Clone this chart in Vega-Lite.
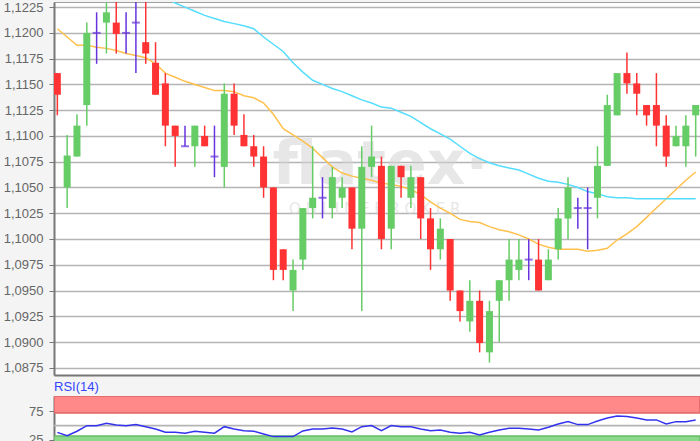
{
  "$schema": "https://vega.github.io/schema/vega-lite/v6.json",
  "padding": 0,
  "spacing": 4,
  "background": "#f4f4f4",
  "config": {
    "font": "Liberation Sans",
    "locale": {"number": {"decimal": ",", "thousands": ".", "grouping": [3], "currency": ["", " €"]}},
    "view": {"fill": "white", "stroke": "#a0a0a0", "strokeWidth": 1},
    "axis": {"labelFont": "Liberation Sans", "labelFontSize": 13, "labelColor": "#666666", "title": null, "labelOverlap": false}
  },
  "datasets": {
    "candles": [
      {"i":0,"o":1.1161,"h":1.1161,"l":1.1120,"c":1.1140,"ma20":1.1204,"ma50":1.1290,"rsi":38.1},
      {"i":1,"o":1.1050,"h":1.1101,"l":1.1030,"c":1.1081,"ma20":1.1196,"ma50":1.1285,"rsi":32.5},
      {"i":2,"o":1.1080,"h":1.1121,"l":1.1080,"c":1.1110,"ma20":1.1188,"ma50":1.1280,"rsi":40.2},
      {"i":3,"o":1.1130,"h":1.1210,"l":1.1110,"c":1.1200,"ma20":1.1188,"ma50":1.1275,"rsi":50.0},
      {"i":4,"o":1.1200,"h":1.1220,"l":1.1170,"c":1.1200,"ma20":1.1186,"ma50":1.1270,"rsi":50.0},
      {"i":5,"o":1.1210,"h":1.1240,"l":1.1180,"c":1.1220,"ma20":1.1185,"ma50":1.1265,"rsi":54.2},
      {"i":6,"o":1.1210,"h":1.1240,"l":1.1180,"c":1.1199,"ma20":1.1183,"ma50":1.1260,"rsi":51.2},
      {"i":7,"o":1.1200,"h":1.1220,"l":1.1180,"c":1.1200,"ma20":1.1180,"ma50":1.1255,"rsi":50.0},
      {"i":8,"o":1.1210,"h":1.1245,"l":1.1161,"c":1.1210,"ma20":1.1178,"ma50":1.1250,"rsi":51.8},
      {"i":9,"o":1.1191,"h":1.1235,"l":1.1170,"c":1.1180,"ma20":1.1176,"ma50":1.1244,"rsi":48.2},
      {"i":10,"o":1.1171,"h":1.1191,"l":1.1140,"c":1.1140,"ma20":1.1170,"ma50":1.1239,"rsi":44.2},
      {"i":11,"o":1.1151,"h":1.1161,"l":1.1090,"c":1.1110,"ma20":1.1161,"ma50":1.1234,"rsi":38.4},
      {"i":12,"o":1.1110,"h":1.1110,"l":1.1070,"c":1.1100,"ma20":1.1157,"ma50":1.1229,"rsi":38.4},
      {"i":13,"o":1.1090,"h":1.1110,"l":1.1090,"c":1.1090,"ma20":1.1153,"ma50":1.1225,"rsi":36.7},
      {"i":14,"o":1.1090,"h":1.1110,"l":1.1070,"c":1.1110,"ma20":1.1150,"ma50":1.1221,"rsi":40.2},
      {"i":15,"o":1.1100,"h":1.1110,"l":1.1090,"c":1.1090,"ma20":1.1147,"ma50":1.1217,"rsi":38.4},
      {"i":16,"o":1.1080,"h":1.1110,"l":1.1060,"c":1.1080,"ma20":1.1144,"ma50":1.1214,"rsi":36.7},
      {"i":17,"o":1.1070,"h":1.1151,"l":1.1050,"c":1.1141,"ma20":1.1144,"ma50":1.1211,"rsi":48.2},
      {"i":18,"o":1.1141,"h":1.1151,"l":1.1101,"c":1.1110,"ma20":1.1143,"ma50":1.1209,"rsi":44.2},
      {"i":19,"o":1.1101,"h":1.1121,"l":1.1090,"c":1.1090,"ma20":1.1139,"ma50":1.1207,"rsi":41.2},
      {"i":20,"o":1.1090,"h":1.1101,"l":1.1070,"c":1.1080,"ma20":1.1137,"ma50":1.1204,"rsi":40.2},
      {"i":21,"o":1.1080,"h":1.1090,"l":1.1040,"c":1.1050,"ma20":1.1132,"ma50":1.1196,"rsi":35.4},
      {"i":22,"o":1.1050,"h":1.1050,"l":1.0960,"c":1.0970,"ma20":1.1121,"ma50":1.1189,"rsi":30.7},
      {"i":23,"o":1.0990,"h":1.0990,"l":1.0960,"c":1.0970,"ma20":1.1107,"ma50":1.1182,"rsi":30.7},
      {"i":24,"o":1.0950,"h":1.0980,"l":1.0930,"c":1.0970,"ma20":1.1101,"ma50":1.1171,"rsi":30.7},
      {"i":25,"o":1.0980,"h":1.1030,"l":1.0970,"c":1.1030,"ma20":1.1095,"ma50":1.1162,"rsi":40.7},
      {"i":26,"o":1.1030,"h":1.1090,"l":1.1020,"c":1.1040,"ma20":1.1088,"ma50":1.1154,"rsi":44.2},
      {"i":27,"o":1.1040,"h":1.1060,"l":1.1020,"c":1.1040,"ma20":1.1079,"ma50":1.1150,"rsi":44.2},
      {"i":28,"o":1.1030,"h":1.1070,"l":1.1020,"c":1.1060,"ma20":1.1070,"ma50":1.1146,"rsi":46.0},
      {"i":29,"o":1.1040,"h":1.1060,"l":1.1030,"c":1.1050,"ma20":1.1064,"ma50":1.1143,"rsi":44.2},
      {"i":30,"o":1.1050,"h":1.1050,"l":1.0990,"c":1.1010,"ma20":1.1061,"ma50":1.1139,"rsi":38.9},
      {"i":31,"o":1.1010,"h":1.1090,"l":1.0930,"c":1.1070,"ma20":1.1059,"ma50":1.1135,"rsi":48.2},
      {"i":32,"o":1.1070,"h":1.1110,"l":1.1060,"c":1.1080,"ma20":1.1057,"ma50":1.1132,"rsi":50.0},
      {"i":33,"o":1.1071,"h":1.1080,"l":1.0990,"c":1.1000,"ma20":1.1054,"ma50":1.1128,"rsi":41.2},
      {"i":34,"o":1.1010,"h":1.1071,"l":1.0990,"c":1.1071,"ma20":1.1053,"ma50":1.1127,"rsi":50.0},
      {"i":35,"o":1.1071,"h":1.1071,"l":1.1040,"c":1.1060,"ma20":1.1051,"ma50":1.1123,"rsi":48.2},
      {"i":36,"o":1.1040,"h":1.1071,"l":1.1030,"c":1.1060,"ma20":1.1048,"ma50":1.1119,"rsi":48.2},
      {"i":37,"o":1.1060,"h":1.1060,"l":1.1000,"c":1.1020,"ma20":1.1043,"ma50":1.1113,"rsi":44.2},
      {"i":38,"o":1.1020,"h":1.1030,"l":1.0970,"c":1.0990,"ma20":1.1036,"ma50":1.1107,"rsi":41.2},
      {"i":39,"o":1.0990,"h":1.1020,"l":1.0980,"c":1.1010,"ma20":1.1030,"ma50":1.1102,"rsi":42.5},
      {"i":40,"o":1.1000,"h":1.1000,"l":1.0940,"c":1.0950,"ma20":1.1025,"ma50":1.1097,"rsi":38.4},
      {"i":41,"o":1.0950,"h":1.0950,"l":1.0920,"c":1.0930,"ma20":1.1019,"ma50":1.1090,"rsi":36.7},
      {"i":42,"o":1.0920,"h":1.0960,"l":1.0910,"c":1.0940,"ma20":1.1017,"ma50":1.1083,"rsi":38.4},
      {"i":43,"o":1.0940,"h":1.0950,"l":1.0890,"c":1.0899,"ma20":1.1016,"ma50":1.1078,"rsi":33.7},
      {"i":44,"o":1.0890,"h":1.0940,"l":1.0880,"c":1.0930,"ma20":1.1012,"ma50":1.1074,"rsi":38.4},
      {"i":45,"o":1.0940,"h":1.0960,"l":1.0900,"c":1.0960,"ma20":1.1009,"ma50":1.1071,"rsi":42.5},
      {"i":46,"o":1.0960,"h":1.1000,"l":1.0940,"c":1.0980,"ma20":1.1007,"ma50":1.1069,"rsi":45.4},
      {"i":47,"o":1.0970,"h":1.1000,"l":1.0960,"c":1.0980,"ma20":1.1004,"ma50":1.1067,"rsi":45.4},
      {"i":48,"o":1.0980,"h":1.1000,"l":1.0960,"c":1.0980,"ma20":1.1000,"ma50":1.1063,"rsi":44.2},
      {"i":49,"o":1.0980,"h":1.1000,"l":1.0950,"c":1.0950,"ma20":1.0995,"ma50":1.1059,"rsi":42.5},
      {"i":50,"o":1.0960,"h":1.0990,"l":1.0960,"c":1.0980,"ma20":1.0992,"ma50":1.1056,"rsi":47.2},
      {"i":51,"o":1.0990,"h":1.1030,"l":1.0980,"c":1.1020,"ma20":1.0990,"ma50":1.1055,"rsi":53.0},
      {"i":52,"o":1.1020,"h":1.1060,"l":1.1000,"c":1.1050,"ma20":1.0990,"ma50":1.1053,"rsi":57.0},
      {"i":53,"o":1.1030,"h":1.1040,"l":1.1010,"c":1.1030,"ma20":1.0990,"ma50":1.1050,"rsi":51.8},
      {"i":54,"o":1.1030,"h":1.1050,"l":1.0990,"c":1.1030,"ma20":1.0988,"ma50":1.1046,"rsi":51.8},
      {"i":55,"o":1.1040,"h":1.1090,"l":1.1020,"c":1.1071,"ma20":1.0989,"ma50":1.1044,"rsi":58.2},
      {"i":56,"o":1.1071,"h":1.1140,"l":1.1071,"c":1.1130,"ma20":1.0991,"ma50":1.1041,"rsi":63.5},
      {"i":57,"o":1.1120,"h":1.1161,"l":1.1120,"c":1.1161,"ma20":1.0999,"ma50":1.1040,"rsi":67.0},
      {"i":58,"o":1.1161,"h":1.1181,"l":1.1141,"c":1.1151,"ma20":1.1005,"ma50":1.1040,"rsi":66.1},
      {"i":59,"o":1.1151,"h":1.1161,"l":1.1120,"c":1.1141,"ma20":1.1012,"ma50":1.1039,"rsi":63.5},
      {"i":60,"o":1.1130,"h":1.1130,"l":1.1110,"c":1.1120,"ma20":1.1021,"ma50":1.1039,"rsi":60.0},
      {"i":61,"o":1.1130,"h":1.1161,"l":1.1090,"c":1.1110,"ma20":1.1030,"ma50":1.1039,"rsi":60.0},
      {"i":62,"o":1.1110,"h":1.1120,"l":1.1070,"c":1.1080,"ma20":1.1039,"ma50":1.1039,"rsi":53.0},
      {"i":63,"o":1.1090,"h":1.1110,"l":1.1090,"c":1.1100,"ma20":1.1048,"ma50":1.1039,"rsi":57.0},
      {"i":64,"o":1.1090,"h":1.1120,"l":1.1070,"c":1.1110,"ma20":1.1057,"ma50":1.1039,"rsi":57.0},
      {"i":65,"o":1.1120,"h":1.1130,"l":1.1080,"c":1.1130,"ma20":1.1065,"ma50":1.1039,"rsi":60.0}
    ],
    "bands": [
      {"zone": "overbought", "lo": 72, "hi": 102},
      {"zone": "oversold", "lo": 16, "hi": 32}
    ],
    "levels": [{"v": 50}]
  },
  "vconcat": [
    {
      "width": 646,
      "height": 373,
      "encoding": {
        "x": {"field": "i", "type": "quantitative", "scale": {"domain": [-0.34, 65.44], "nice": false, "zero": false, "padding": 0},
              "axis": {"labels": false, "ticks": false, "grid": false, "domain": true, "domainColor": "#777777", "domainWidth": 2, "minExtent": 0, "maxExtent": 0}}
      },
      "layer": [
        {
          "data": {"values": [{"label": "flatex·", "x": 21.9, "y": 1.1053}]},
          "mark": {"type": "text", "font": "DejaVu Sans", "fontWeight": "bold", "fontSize": 60, "align": "left", "baseline": "alphabetic", "color": "#d4d4d4", "opacity": 0.55},
          "encoding": {
            "x": {"field": "x", "type": "quantitative"},
            "y": {"field": "y", "type": "quantitative", "scale": {"domain": [1.0868, 1.1230], "nice": false, "zero": false, "padding": 0},
                  "axis": {"values": [1.0875, 1.09, 1.0925, 1.095, 1.0975, 1.1, 1.1025, 1.105, 1.1075, 1.11, 1.1125, 1.115, 1.1175, 1.12, 1.1225],
                           "tickCount": 40,
                           "format": ".4f",
                           "labelOverlap": false, "labelBound": false,
                           "grid": true, "gridColor": "#b4b4b4", "gridWidth": 1.6,
                           "domainColor": "#777777", "domainWidth": 2, "tickColor": "#777777", "tickSize": 5, "labelPadding": 6,
                           "minExtent": 53, "maxExtent": 53}},
            "text": {"field": "label"}
          }
        },
        {
          "data": {"values": [{"label": "O N L I N E   B R O K E R", "x": 23.6, "y": 1.1024}]},
          "mark": {"type": "text", "font": "DejaVu Sans", "fontSize": 15, "align": "left", "baseline": "alphabetic", "color": "#d4d4d4", "opacity": 0.55},
          "encoding": {
            "x": {"field": "x", "type": "quantitative"},
            "y": {"field": "y", "type": "quantitative"},
            "text": {"field": "label"}
          }
        },
        {
          "data": {"name": "candles"},
          "mark": {"type": "line", "color": "#ffc04d", "strokeWidth": 1.5, "clip": true},
          "encoding": {
            "y": {"field": "ma20", "type": "quantitative"}
          }
        },
        {
          "data": {"name": "candles"},
          "mark": {"type": "line", "color": "#55ddff", "strokeWidth": 1.5, "clip": true},
          "encoding": {
            "y": {"field": "ma50", "type": "quantitative"}
          }
        },
        {
          "data": {"name": "candles"},
          "mark": {"type": "rule", "strokeWidth": 1.5, "clip": true},
          "encoding": {
            "y": {"field": "l", "type": "quantitative"},
            "y2": {"field": "h"},
            "color": {"condition": [{"test": "datum.c > datum.o", "value": "#66cc66"}, {"test": "datum.c < datum.o", "value": "#ff3333"}], "value": "#6633dd"}
          }
        },
        {
          "data": {"name": "candles"},
          "transform": [{"filter": "datum.o != datum.c"}],
          "mark": {"type": "bar", "width": 7, "clip": true},
          "encoding": {
            "y": {"field": "o", "type": "quantitative"},
            "y2": {"field": "c"},
            "color": {"condition": {"test": "datum.c > datum.o", "value": "#66cc66"}, "value": "#ff3333"}
          }
        },
        {
          "data": {"name": "candles"},
          "transform": [{"filter": "datum.o == datum.c"}],
          "mark": {"type": "tick", "orient": "horizontal", "size": 8, "thickness": 2, "color": "#6633dd", "clip": true},
          "encoding": {
            "y": {"field": "o", "type": "quantitative"}
          }
        }
      ]
    },
    {
      "width": 646,
      "height": 49,
      "title": {"text": "RSI(14)", "anchor": "start", "frame": "group", "color": "#3344ff", "fontSize": 13, "fontWeight": "normal", "font": "Liberation Sans", "offset": 2},
      "encoding": {
        "x": {"field": "i", "type": "quantitative", "scale": {"domain": [-0.34, 65.44], "nice": false, "zero": false, "padding": 0}, "axis": null}
      },
      "layer": [
        {
          "data": {"name": "bands"},
          "mark": {"type": "rect", "strokeWidth": 1.5, "clip": true},
          "encoding": {
            "x": null,
            "y": {"field": "lo", "type": "quantitative", "scale": {"domain": [16, 102], "nice": false, "zero": false, "padding": 0},
                  "axis": {"values": [25, 75], "tickCount": 10, "grid": false, "labelOverlap": false, "domainColor": "#777777", "domainWidth": 2, "tickColor": "#777777", "tickSize": 5, "labelPadding": 6, "minExtent": 53, "maxExtent": 53}},
            "y2": {"field": "hi"},
            "fill": {"condition": {"test": "datum.zone == 'overbought'", "value": "#ff8888"}, "value": "#8cd98c"},
            "stroke": {"condition": {"test": "datum.zone == 'overbought'", "value": "#e06666"}, "value": "#66bb66"}
          }
        },
        {
          "data": {"name": "levels"},
          "mark": {"type": "rule", "color": "#b4b4b4", "strokeWidth": 1.6},
          "encoding": {
            "x": null,
            "y": {"field": "v", "type": "quantitative"}
          }
        },
        {
          "data": {"name": "candles"},
          "mark": {"type": "line", "color": "#3333ee", "strokeWidth": 1.5, "clip": true},
          "encoding": {
            "y": {"field": "rsi", "type": "quantitative"}
          }
        }
      ]
    }
  ]
}
